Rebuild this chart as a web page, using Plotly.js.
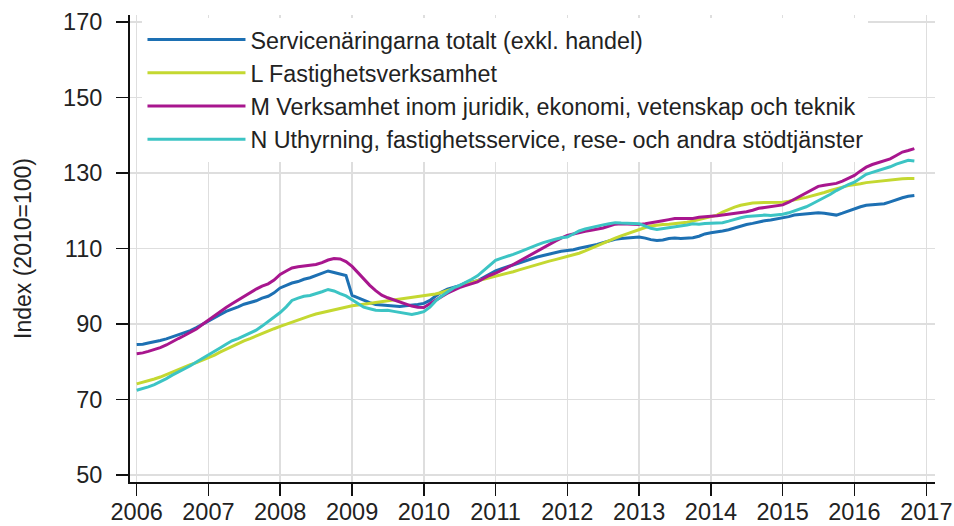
<!DOCTYPE html>
<html>
<head>
<meta charset="utf-8">
<script src="https://cdn.plot.ly/plotly-3.0.1.min.js"></script>
<style>
  html, body { margin: 0; padding: 0; background: #ffffff; }
  #chart { width: 954px; height: 526px; }
</style>
</head>
<body>
<div id="chart"></div>
<script>
// ---- Data (monthly index, 2010=100), Jan 2006 .. Nov 2016 ----
const startYear = 2006;
const seriesNames = [
  "Servicenäringarna totalt (exkl. handel)",
  "L Fastighetsverksamhet",
  "M Verksamhet inom juridik, ekonomi, vetenskap och teknik",
  "N Uthyrning, fastighetsservice, rese- och andra stödtjänster"
];
const xTickLabels = ["2006","2007","2008","2009","2010","2011","2012","2013","2014","2015","2016","2017"];
const yTickValues = [50, 70, 90, 110, 130, 150, 170];

const totalt = [
  84.5, 84.6, 84.9, 85.2, 85.6, 86.0, 86.5, 87.0, 87.6, 88.2, 89.0, 89.8,
  90.8, 91.6, 92.4, 93.3, 93.8, 94.5, 95.2, 95.6, 96.1, 96.8, 97.3, 98.2,
  99.5, 100.2, 100.8, 101.2, 101.8, 102.2, 102.8, 103.5, 104.0, 103.6, 103.2, 102.8,
  97.5, 96.8, 96.3, 95.6, 95.1, 95.0, 94.9, 94.7, 94.6, 94.8, 94.9, 95.1,
  95.4, 96.2, 97.3, 98.4, 99.2, 99.6, 100.1, 100.8, 101.0, 101.4, 102.3, 103.2,
  104.0, 104.6, 105.1, 105.6, 106.2, 106.8, 107.2, 107.7, 108.1, 108.5, 108.9, 109.2,
  109.4, 109.6, 110.0, 110.3, 110.7, 111.0, 111.5, 112.0, 112.4, 112.6, 112.7, 112.9,
  113.0, 112.7, 112.3, 112.1, 112.2, 112.6, 112.7, 112.6, 112.7, 112.8, 113.2, 113.8,
  114.1, 114.3, 114.6, 114.9, 115.4, 115.9, 116.3, 116.6, 117.0, 117.3, 117.5, 117.8,
  118.0, 118.4, 118.8, 119.0, 119.1, 119.2, 119.4, 119.3, 119.0, 118.8, 119.3, 119.9,
  120.4, 121.0, 121.4, 121.6, 121.7, 121.8, 122.3, 122.9, 123.4, 123.8, 124.0
];
const fastighet = [
  74.1, 74.5, 74.9, 75.4, 75.9, 76.6, 77.2, 77.8, 78.5, 79.2, 79.7, 80.3,
  81.0, 81.7, 82.5, 83.3, 84.0, 84.8, 85.5, 86.1, 86.8, 87.5, 88.1, 88.7,
  89.3, 89.9, 90.5, 91.0, 91.5, 92.1, 92.6, 93.0, 93.4, 93.8, 94.2, 94.6,
  94.8, 95.0, 95.2, 95.5, 95.7, 95.9, 96.1, 96.3, 96.5, 96.7, 96.9, 97.2,
  97.4, 97.6, 97.9, 98.3, 98.8, 99.3, 99.8, 100.4, 101.0, 101.4, 101.8, 102.2,
  102.5, 102.9, 103.3, 103.8, 104.3, 104.8, 105.3, 105.7, 106.2, 106.6, 107.0, 107.4,
  107.7, 108.2, 108.7, 109.3, 110.0, 110.7, 111.3, 112.0, 112.7, 113.3, 113.9, 114.5,
  115.0, 115.5, 115.9, 116.2, 116.3, 116.4, 116.5, 116.7, 116.9, 117.2, 117.6, 117.9,
  118.2, 118.8, 119.6, 120.3, 120.9, 121.4, 121.7, 122.0, 122.1, 122.1, 122.1, 122.1,
  122.2, 122.5, 122.9, 123.2, 123.5, 123.9, 124.3, 124.8, 125.3, 125.8, 126.2, 126.6,
  126.8, 127.1, 127.4, 127.6, 127.8, 128.0, 128.2, 128.4, 128.4, 128.5, 128.5
];
const juridik = [
  82.1, 82.3, 82.7, 83.2, 83.7, 84.4, 85.3, 86.1, 86.9, 87.7, 88.6, 89.8,
  91.0, 92.2, 93.3, 94.3, 95.3, 96.3, 97.2, 98.1, 99.2, 100.0, 100.6, 101.6,
  103.1, 104.0, 104.8, 105.1, 105.3, 105.6, 105.7, 106.2, 106.9, 107.3, 107.2, 106.5,
  105.2, 103.5, 101.8, 100.2, 98.8, 97.6, 96.9, 96.3, 95.7, 95.1, 94.7, 94.4,
  94.3, 95.3, 96.3, 97.2, 98.1, 98.9, 99.6, 100.1, 100.6, 101.1, 102.0, 102.8,
  103.4, 104.1, 104.9, 105.7, 106.6, 107.5, 108.4, 109.2, 110.1, 111.0, 111.9, 112.7,
  113.4, 113.8, 114.2, 114.5, 114.8, 115.1, 115.4, 115.9, 116.4, 116.5, 116.4, 116.3,
  116.3, 116.5, 116.7, 116.9, 117.3, 117.6, 117.9, 117.9, 117.8, 117.9, 118.2, 118.4,
  118.5, 118.6, 118.8, 119.0, 119.2, 119.4, 119.7, 120.1, 120.6, 120.8, 121.0, 121.1,
  121.5, 122.2, 123.0, 123.8, 124.7, 125.6, 126.4, 126.7, 126.9, 127.2, 127.8, 128.5,
  129.3, 130.5, 131.5, 132.2, 132.7, 133.1, 133.7, 134.6, 135.5, 135.9, 136.4
];
const uthyrning = [
  72.4, 72.8, 73.3, 73.9, 74.6, 75.5, 76.4, 77.2, 78.0, 78.9, 79.9, 80.8,
  81.6, 82.6, 83.6, 84.6, 85.5, 86.1, 86.8, 87.5, 88.3, 89.4, 90.6, 91.8,
  93.0, 94.5, 96.2, 96.8, 97.3, 97.5, 97.9, 98.5, 99.1, 98.7, 98.0, 97.4,
  96.4, 95.3, 94.4, 94.0, 93.6, 93.5, 93.6, 93.3, 93.0, 92.6, 92.5, 92.8,
  93.2, 94.4, 96.0, 97.3, 98.5, 99.5, 100.1, 100.9, 101.8, 102.7, 104.0, 105.5,
  106.8, 107.4, 107.8, 108.4, 109.0, 109.7, 110.3, 110.9, 111.5, 112.0, 112.4, 112.8,
  113.0, 113.8, 114.6, 115.1, 115.5, 115.9, 116.2, 116.5, 116.8, 116.7, 116.6, 116.5,
  116.5, 115.9, 115.3, 115.0, 115.2, 115.5, 115.8, 116.0, 116.2, 116.5, 116.4, 116.6,
  116.6, 116.7, 116.8, 117.2, 117.7, 118.1, 118.4, 118.6, 118.8, 118.8, 118.7, 118.8,
  119.0, 119.4, 119.9, 120.4, 121.0, 121.8, 122.6, 123.4, 124.3, 125.3, 126.2, 126.9,
  127.5, 128.7, 129.6, 130.1, 130.6, 131.0, 131.6, 132.3, 132.9, 133.3, 133.1
];

// month categories for the x axis
const months = totalt.map((_, i) => {
  const y = startYear + Math.floor(i / 12);
  const m = String((i % 12) + 1).padStart(2, "0");
  return y + "-" + m + "-01";
});

const colors = ["#1d70b3", "#c4d831", "#a8168e", "#3cc4c4"];
const values = [totalt, fastighet, juridik, uthyrning];

const traces = values.map((v, k) => ({
  x: months,
  y: v,
  type: "scatter",
  mode: "lines",
  name: seriesNames[k],
  line: { color: colors[k], width: 3 },
  hoverinfo: "skip"
}));

const fontFam = "Arial, 'Liberation Sans', sans-serif";
const tickVals = xTickLabels.map(y => y + "-01-01");

const layout = {
  width: 954,
  height: 526,
  margin: { l: 130, r: 19, t: 15, b: 44 },
  paper_bgcolor: "#ffffff",
  plot_bgcolor: "#ffffff",
  showlegend: true,
  font: { family: fontFam, color: "#222222", size: 23 },
  xaxis: {
    type: "date",
    range: ["2005-11-28", "2017-02-14"],
    tickmode: "array",
    tickvals: tickVals,
    ticktext: xTickLabels,
    ticks: "outside",
    ticklen: 12,
    tickwidth: 1.5,
    tickcolor: "#111111",
    ticklabelstandoff: -4,
    showline: true,
    linecolor: "#111111",
    linewidth: 2,
    showgrid: true,
    gridcolor: "#dedede",
    gridwidth: 1.5,
    zeroline: false,
    tickfont: { family: fontFam, size: 23.5, color: "#222222" },
    fixedrange: true
  },
  yaxis: {
    range: [48.1, 171.8],
    tickmode: "array",
    tickvals: yTickValues,
    ticks: "outside",
    ticklen: 12,
    tickwidth: 1.5,
    tickcolor: "#111111",
    ticklabelstandoff: 9,
    showline: true,
    linecolor: "#111111",
    linewidth: 2,
    showgrid: true,
    gridcolor: "#dedede",
    gridwidth: 1.5,
    zeroline: false,
    tickfont: { family: fontFam, size: 23.5, color: "#222222" },
    title: { text: "Index (2010=100)", font: { family: fontFam, size: 23, color: "#222222" }, standoff: 25 },
    fixedrange: true
  },
  legend: {
    x: 0.0155,
    y: 0.994,
    xanchor: "left",
    yanchor: "top",
    bgcolor: "#ffffff",
    borderwidth: 0,
    itemwidth: 98,
    tracegroupgap: 0,
    font: { family: fontFam, size: 23.3, color: "#222222" }
  }
};

Plotly.newPlot("chart", traces, layout, { staticPlot: true, displayModeBar: false });
</script>
</body>
</html>
